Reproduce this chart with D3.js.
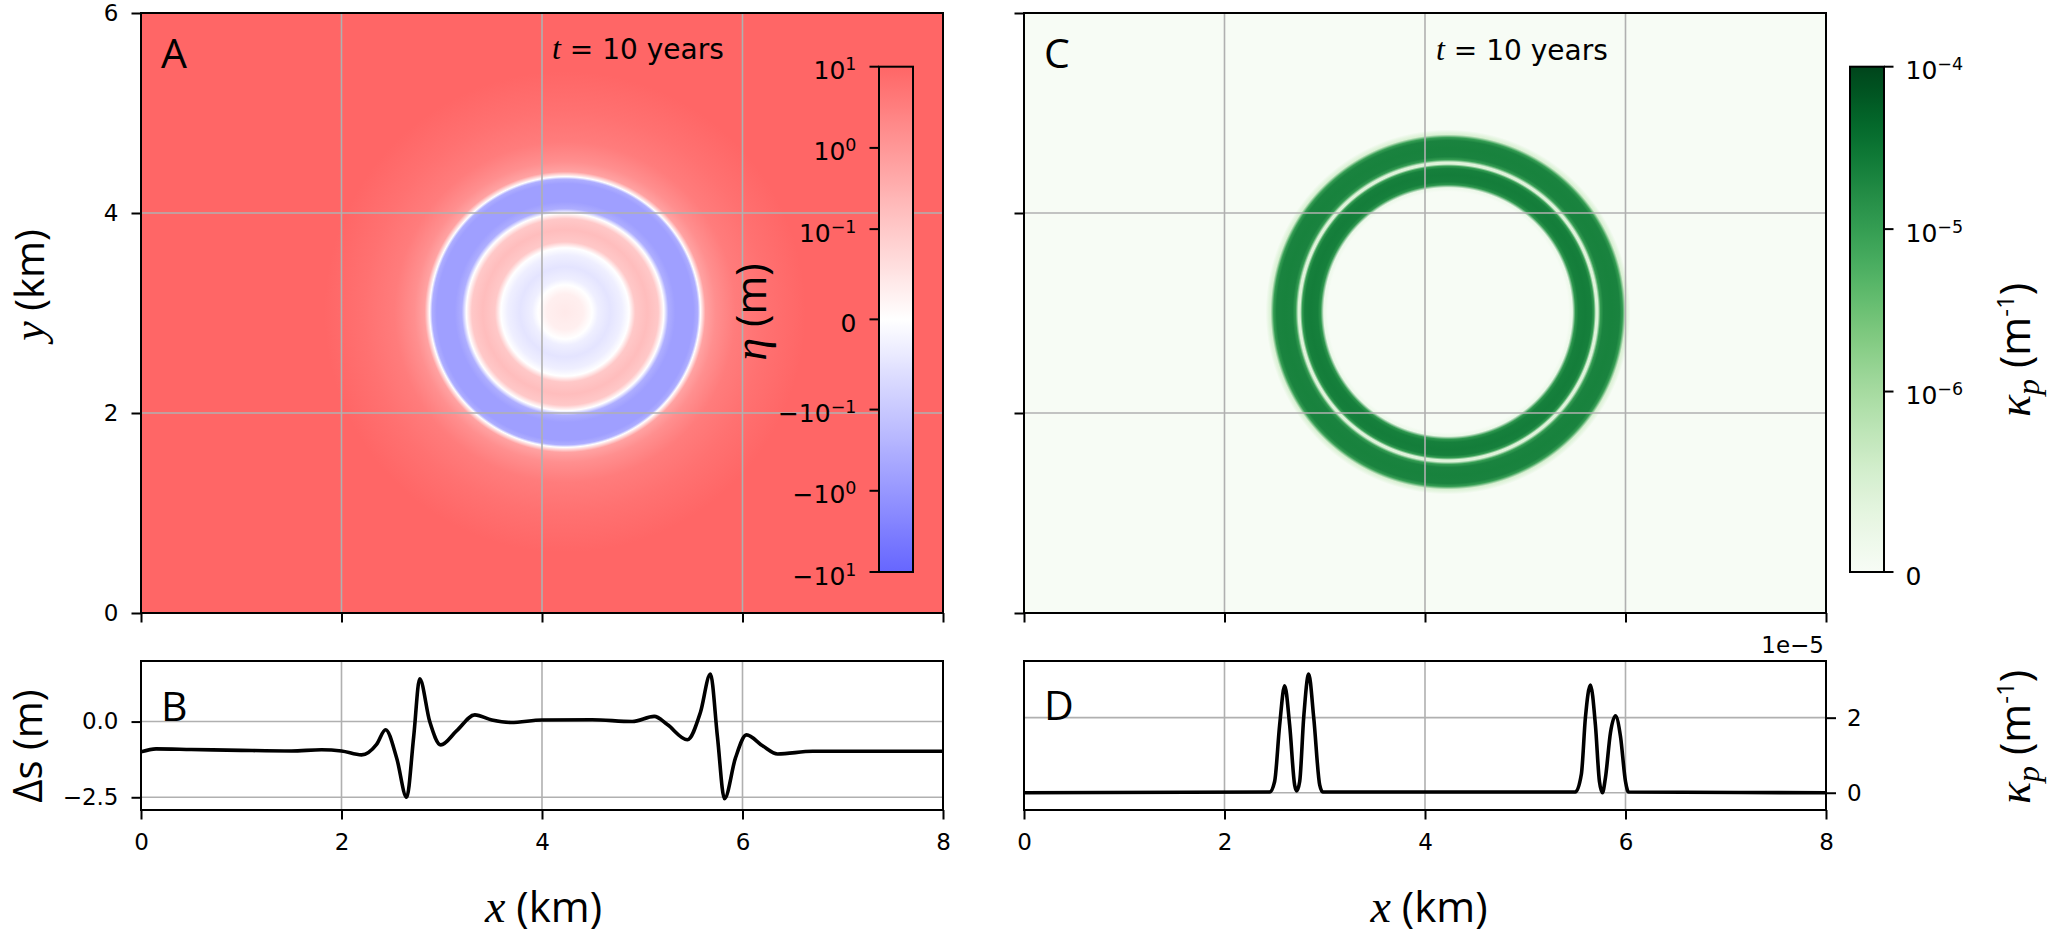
<!DOCTYPE html>
<html><head><meta charset="utf-8">
<script src="https://cdn.jsdelivr.net/npm/d3@7"></script>
<style>body{margin:0;background:#fff}</style>
</head><body><svg id="fig" width="2050" height="937" xmlns="http://www.w3.org/2000/svg"></svg>
<script>
// ---------------- data ----------------
const xTicks = [0, 2, 4, 6, 8];
const yTicksMap = [0, 2, 4, 6];
const gridX = [2, 4, 6];
const gridYMap = [2, 4];
const ringCenter = [4.23, 3.01];           // km
const timeLabel = "10 years";

// radial profile of eta (panel A), r in km, eta in m
const etaR = [0, 0.18, 0.27, 0.33, 0.45, 0.57, 0.64, 0.70, 0.82, 0.93, 0.985, 1.03, 1.10, 1.28, 1.325, 1.35, 1.40, 1.50, 1.70, 2.00, 2.40];
const etaV = [0.04, 0.03, 0, -0.03, -0.05, -0.03, 0, 0.10, 0.17, 0.10, 0, -0.35, -0.68, -0.68, -0.35, 0, 0.6, 1.5, 3.5, 6, 10];
const etaBackground = 10;

// radial profile of kappa_p (panel C), r in km, kappa in 1/m
const kapR = [0, 1.20, 1.24, 1.27, 1.30, 1.37, 1.43, 1.455, 1.475, 1.495, 1.52, 1.55, 1.63, 1.71, 1.74, 1.77, 1.82];
const kapV = [0, 0, 2e-7, 1.2e-5, 2.3e-5, 2.5e-5, 2.3e-5, 1.0e-5, 4e-7, 4e-7, 1.0e-5, 2.1e-5, 2.2e-5, 2.1e-5, 1.0e-5, 5e-7, 0];
const kapBackground = 0;

// panel B: Delta s (m) along x (km)
const bX = [0, 0.15, 0.5, 1.0, 1.5, 1.8, 2.0, 2.2, 2.35, 2.44, 2.55, 2.65, 2.72, 2.78, 2.88, 2.99, 3.15, 3.33, 3.5, 3.69, 4.0, 4.5, 4.9, 5.12, 5.25, 5.45, 5.58, 5.68, 5.75, 5.82, 5.93, 6.04, 6.2, 6.35, 6.7, 7.5, 8.0];
const bY = [-1.0, -0.9, -0.92, -0.95, -0.97, -0.93, -0.97, -1.1, -0.75, -0.27, -1.2, -2.5, -0.5, 1.41, 0.0, -0.77, -0.3, 0.22, 0.05, -0.03, 0.05, 0.06, 0.0, 0.17, -0.1, -0.6, 0.3, 1.57, -0.5, -2.55, -1.2, -0.44, -0.8, -1.07, -0.98, -0.98, -0.98];
const bTicks = [0, -2.5];

// panel D: kappa_p (1/m) along x (km)
const dX = [0, 2.45, 2.5, 2.55, 2.6, 2.65, 2.7, 2.72, 2.75, 2.79, 2.84, 2.89, 2.95, 2.98, 5.5, 5.56, 5.6, 5.65, 5.7, 5.74, 5.77, 5.8, 5.85, 5.9, 5.95, 6.0, 6.03, 8.0];
const dY = [0, 0.02e-5, 0.3e-5, 1.8e-5, 2.85e-5, 1.8e-5, 0.2e-5, 0.05e-5, 0.3e-5, 2.0e-5, 3.16e-5, 2.0e-5, 0.2e-5, 0.02e-5, 0.02e-5, 0.5e-5, 2.0e-5, 2.87e-5, 1.8e-5, 0.3e-5, 0.0, 0.4e-5, 1.6e-5, 2.05e-5, 1.5e-5, 0.3e-5, 0.02e-5, 0];
const dTicks = [0, 2e-5];
const dTickLabels = ["0", "2"];
const dOffsetLabel = "1e\u22125";

// colorbars
const etaCbTicks = [10, 1, 0.1, 0, -0.1, -1, -10];
const etaCbLabels = [["10", "1"], ["10", "0"], ["10", "\u22121"], ["0", ""], ["\u221210", "\u22121"], ["\u221210", "0"], ["\u221210", "1"]];
const kapCbTicks = [1e-4, 1e-5, 1e-6, 0];
const kapCbLabels = [["10", "\u22124"], ["10", "\u22125"], ["10", "\u22126"], ["0", ""]];

// ---------------- helpers ----------------
const svg = d3.select("#fig");
const defs = svg.append("defs");
const TICKFONT = "DejaVu Sans";
const LABFONT = "'Open Sans', 'Noto Sans', sans-serif";
const MATHFONT = "'Liberation Serif', 'DejaVu Serif', serif";

function symT(v, lt) {           // matplotlib SymLogNorm transform (base 10, linscale 1)
  const L = 1 / (1 - 1 / 10), a = Math.abs(v);
  if (a <= lt) return v / lt * L;
  return Math.sign(v) * (L + Math.log10(a / lt));
}
const etaMax = symT(10, 0.1);
const bwr = d3.scaleLinear().domain([-1, 0, 1]).range(["#6666ff", "#ffffff", "#ff6666"]).clamp(true);
const colorEta = v => bwr(symT(v, 0.1) / etaMax);
const kapMax = symT(1e-4, 1e-6);
const colorKap = v => d3.interpolateGreens(Math.max(0, Math.min(1, symT(v, 1e-6) / kapMax)));

function styleAxis(g, fs) {
  g.select(".domain").remove();
  g.selectAll(".tick line").attr("stroke", "#000").attr("stroke-width", 2);
  g.selectAll(".tick text").attr("font-family", TICKFONT).attr("font-size", fs).attr("fill", "#000");
}

// ---------------- geometry ----------------
const A = {x0: 141, x1: 943, y0: 13, y1: 613};
const C = {x0: 1024, x1: 1826, y0: 13, y1: 613};
const B = {x0: 141, x1: 943, y0: 661, y1: 810};
const D = {x0: 1024, x1: 1826, y0: 661, y1: 810};

const xA = d3.scaleLinear().domain([0, 8]).range([A.x0, A.x1]);
const yA = d3.scaleLinear().domain([0, 6]).range([A.y1, A.y0]);
const xC = d3.scaleLinear().domain([0, 8]).range([C.x0, C.x1]);
const yC = d3.scaleLinear().domain([0, 6]).range([C.y1, C.y0]);
const yB = d3.scaleLinear().domain([-2.92, 2.0]).range([B.y1, B.y0]);
const yD = d3.scaleLinear().domain([-0.46e-5, 3.51e-5]).range([D.y1, D.y0]);

// ---------------- map panels ----------------
function mapPanel(P, xs, ys, id, rArr, vArr, bgVal, colorFn) {
  defs.append("clipPath").attr("id", "clip" + id)
    .append("rect").attr("x", P.x0).attr("y", P.y0).attr("width", P.x1 - P.x0).attr("height", P.y1 - P.y0);
  const cx = xs(ringCenter[0]), cy = ys(ringCenter[1]);
  const rMax = rArr[rArr.length - 1];
  const rPx = xs(rMax) - xs(0);
  const grad = defs.append("radialGradient").attr("id", "rg" + id)
    .attr("gradientUnits", "userSpaceOnUse").attr("cx", cx).attr("cy", cy).attr("r", rPx)
    .attr("fx", cx).attr("fy", cy);
  grad.selectAll("stop").data(rArr).join("stop")
    .attr("offset", d => d / rMax)
    .attr("stop-color", (d, i) => colorFn(vArr[i]));
  const g = svg.append("g").attr("clip-path", `url(#clip${id})`);
  g.append("rect").attr("x", P.x0).attr("y", P.y0).attr("width", P.x1 - P.x0).attr("height", P.y1 - P.y0)
    .attr("fill", colorFn(bgVal));
  g.append("circle").attr("cx", cx).attr("cy", cy).attr("r", rPx).attr("fill", `url(#rg${id})`);
  // grid
  g.selectAll(".gx").data(gridX).join("line")
    .attr("x1", d => xs(d)).attr("x2", d => xs(d)).attr("y1", P.y0).attr("y2", P.y1)
    .attr("stroke", "#b0b0b0").attr("stroke-width", 1.6);
  g.selectAll(".gy").data(gridYMap).join("line")
    .attr("y1", d => ys(d)).attr("y2", d => ys(d)).attr("x1", P.x0).attr("x2", P.x1)
    .attr("stroke", "#b0b0b0").attr("stroke-width", 1.6);
}
mapPanel(A, xA, yA, "A", etaR, etaV, etaBackground, colorEta);
mapPanel(C, xC, yC, "C", kapR, kapV, kapBackground, colorKap);

// ---------------- colorbars ----------------
function colorbar(id, x0, x1, y0, y1, tVals, tMin, tMax, colorAtFrac, ticks, labels, side, tfun) {
  const sc = d3.scaleLinear().domain([tMin, tMax]).range([y1, y0]);
  const lg = defs.append("linearGradient").attr("id", "cb" + id)
    .attr("x1", 0).attr("y1", 1).attr("x2", 0).attr("y2", 0);
  lg.selectAll("stop").data(tVals).join("stop")
    .attr("offset", d => d).attr("stop-color", d => colorAtFrac(d));
  svg.append("rect").attr("x", x0).attr("y", y0).attr("width", x1 - x0).attr("height", y1 - y0)
    .attr("fill", `url(#cb${id})`).attr("stroke", "#000").attr("stroke-width", 2);
  const fs = 25;
  ticks.forEach((t, i) => {
    const y = sc(tfun(t));
    const xt = side === "left" ? x0 : x1;
    const dir = side === "left" ? -1 : 1;
    svg.append("line").attr("x1", xt).attr("x2", xt + dir * 9.5).attr("y1", y).attr("y2", y)
      .attr("stroke", "#000").attr("stroke-width", 2);
    const txt = svg.append("text").attr("x", xt + dir * (9.5 + (side === "left" ? 13 : 12)))
      .attr("y", y + 12.5).attr("font-family", TICKFONT).attr("font-size", fs).attr("fill", "#000")
      .attr("text-anchor", side === "left" ? "end" : "start");
    txt.append("tspan").text(labels[i][0]);
    if (labels[i][1]) txt.append("tspan").attr("font-size", fs * 0.7).attr("dy", -9).text(labels[i][1]);
  });
}
const fracs = d3.range(0, 1.0001, 0.02);
colorbar("A", 879, 913, 66.7, 572, fracs, -etaMax, etaMax, f => bwr(2 * f - 1),
  etaCbTicks, etaCbLabels, "left", v => symT(v, 0.1));
colorbar("C", 1850, 1884, 66.7, 572, fracs, 0, kapMax, f => d3.interpolateGreens(f),
  kapCbTicks, kapCbLabels, "right", v => symT(v, 1e-6));

// ---------------- line panels ----------------
function linePanel(P, ys, gridY, xArr, yArr, id) {
  const xs = d3.scaleLinear().domain([0, 8]).range([P.x0, P.x1]);
  defs.append("clipPath").attr("id", "clip" + id)
    .append("rect").attr("x", P.x0).attr("y", P.y0).attr("width", P.x1 - P.x0).attr("height", P.y1 - P.y0);
  const g = svg.append("g").attr("clip-path", `url(#clip${id})`);
  g.selectAll(".gx").data(gridX).join("line")
    .attr("x1", d => xs(d)).attr("x2", d => xs(d)).attr("y1", P.y0).attr("y2", P.y1)
    .attr("stroke", "#b0b0b0").attr("stroke-width", 1.6);
  g.selectAll(".gy").data(gridY).join("line")
    .attr("y1", d => ys(d)).attr("y2", d => ys(d)).attr("x1", P.x0).attr("x2", P.x1)
    .attr("stroke", "#b0b0b0").attr("stroke-width", 1.6);
  const line = d3.line().x(d => xs(d[0])).y(d => ys(d[1])).curve(d3.curveMonotoneX);
  g.append("path").datum(xArr.map((x, i) => [x, yArr[i]])).attr("d", line)
    .attr("fill", "none").attr("stroke", "#000").attr("stroke-width", 3.6).attr("stroke-linejoin", "round");
  return xs;
}
linePanel(B, yB, bTicks, bX, bY, "B");
linePanel(D, yD, dTicks, dX, dY, "D");

// ---------------- frames ----------------
[A, C, B, D].forEach(P => svg.append("rect").attr("x", P.x0).attr("y", P.y0)
  .attr("width", P.x1 - P.x0).attr("height", P.y1 - P.y0)
  .attr("fill", "none").attr("stroke", "#000").attr("stroke-width", 2));

// ---------------- axes ----------------
const FS = 23;
svg.append("g").attr("transform", `translate(0,${A.y1})`)
  .call(d3.axisBottom(xA).tickValues(xTicks).tickSize(9.5).tickFormat("")).call(g => styleAxis(g, FS));
svg.append("g").attr("transform", `translate(${A.x0},0)`)
  .call(d3.axisLeft(yA).tickValues(yTicksMap).tickSize(9.5).tickPadding(13).tickFormat(d3.format("d"))).call(g => styleAxis(g, FS));
svg.append("g").attr("transform", `translate(0,${C.y1})`)
  .call(d3.axisBottom(xC).tickValues(xTicks).tickSize(9.5).tickFormat("")).call(g => styleAxis(g, FS));
svg.append("g").attr("transform", `translate(${C.x0},0)`)
  .call(d3.axisLeft(yC).tickValues(yTicksMap).tickSize(9.5).tickFormat("")).call(g => styleAxis(g, FS));
const xB = d3.scaleLinear().domain([0, 8]).range([B.x0, B.x1]);
const xD = d3.scaleLinear().domain([0, 8]).range([D.x0, D.x1]);
svg.append("g").attr("transform", `translate(0,${B.y1})`)
  .call(d3.axisBottom(xB).tickValues(xTicks).tickSize(9.5).tickPadding(14).tickFormat(d3.format("d"))).call(g => styleAxis(g, FS));
svg.append("g").attr("transform", `translate(${B.x0},0)`)
  .call(d3.axisLeft(yB).tickValues(bTicks).tickSize(9.5).tickPadding(13).tickFormat(d3.format(".1f"))).call(g => styleAxis(g, FS));
svg.append("g").attr("transform", `translate(0,${D.y1})`)
  .call(d3.axisBottom(xD).tickValues(xTicks).tickSize(9.5).tickPadding(14).tickFormat(d3.format("d"))).call(g => styleAxis(g, FS));
svg.append("g").attr("transform", `translate(${D.x1},0)`)
  .call(d3.axisRight(yD).tickValues(dTicks).tickSize(10).tickPadding(11).tickFormat((d, i) => dTickLabels[i])).call(g => styleAxis(g, FS));
svg.append("text").attr("x", D.x1 - 2).attr("y", 653).attr("text-anchor", "end")
  .attr("font-family", TICKFONT).attr("font-size", FS).text(dOffsetLabel);

// ---------------- texts ----------------
function panelLetter(x, y, s) {
  svg.append("text").attr("x", x).attr("y", y).attr("font-family", LABFONT).attr("font-size", 41).attr("fill", "#000").text(s);
}
panelLetter(161, 68, "A");
panelLetter(1044, 68, "C");
panelLetter(161, 721, "B");
panelLetter(1044, 720, "D");

function timeText(x, y) {
  const t = svg.append("text").attr("x", x).attr("y", y).attr("font-size", 28).attr("fill", "#000");
  t.append("tspan").attr("font-family", MATHFONT).attr("font-style", "italic").attr("font-size", 32).text("t");
  t.append("tspan").attr("font-family", TICKFONT).text(" = " + timeLabel);
}
timeText(552, 59);
timeText(1436, 60);

// x labels
function xLabel(cx) {
  const t = svg.append("text").attr("x", cx).attr("y", 922).attr("text-anchor", "middle")
    .attr("font-family", LABFONT).attr("font-size", 42).attr("fill", "#000");
  t.append("tspan").attr("font-family", MATHFONT).attr("font-style", "italic").attr("font-size", 46).text("x");
  t.append("tspan").text(" (km)");
}
xLabel(543.5);
xLabel(1429);

function rotLabel(bx, cy, parts, fsz) {
  const t = svg.append("text").attr("transform", `translate(${bx},${cy}) rotate(-90)`)
    .attr("text-anchor", "middle").attr("font-family", LABFONT).attr("font-size", fsz || 42).attr("fill", "#000");
  parts.forEach(p => {
    const s = t.append("tspan").text(p.t);
    if (p.math) s.attr("font-family", MATHFONT).attr("font-style", "italic").attr("font-size", 46);
    if (p.fs) s.attr("font-size", p.fs);
    if (p.dy) s.attr("dy", p.dy);
  });
}
rotLabel(44, 285, [{t: "y", math: true, fs: 44}, {t: " (km)"}], 40);
rotLabel(766, 312, [{t: "\u03b7", math: true}, {t: " (m)"}]);
rotLabel(42, 746, [{t: "\u0394s (m)"}], 40);
function kapLabel(cy) {
  rotLabel(2030, cy, [{t: "\u03ba", math: true}, {t: "p", math: true, fs: 32, dy: 9},
    {t: " (m", dy: -9}, {t: "-1", fs: 24, dy: -16}, {t: ")", dy: 16}]);
}
kapLabel(350);
kapLabel(737);
</script>
</body></html>
